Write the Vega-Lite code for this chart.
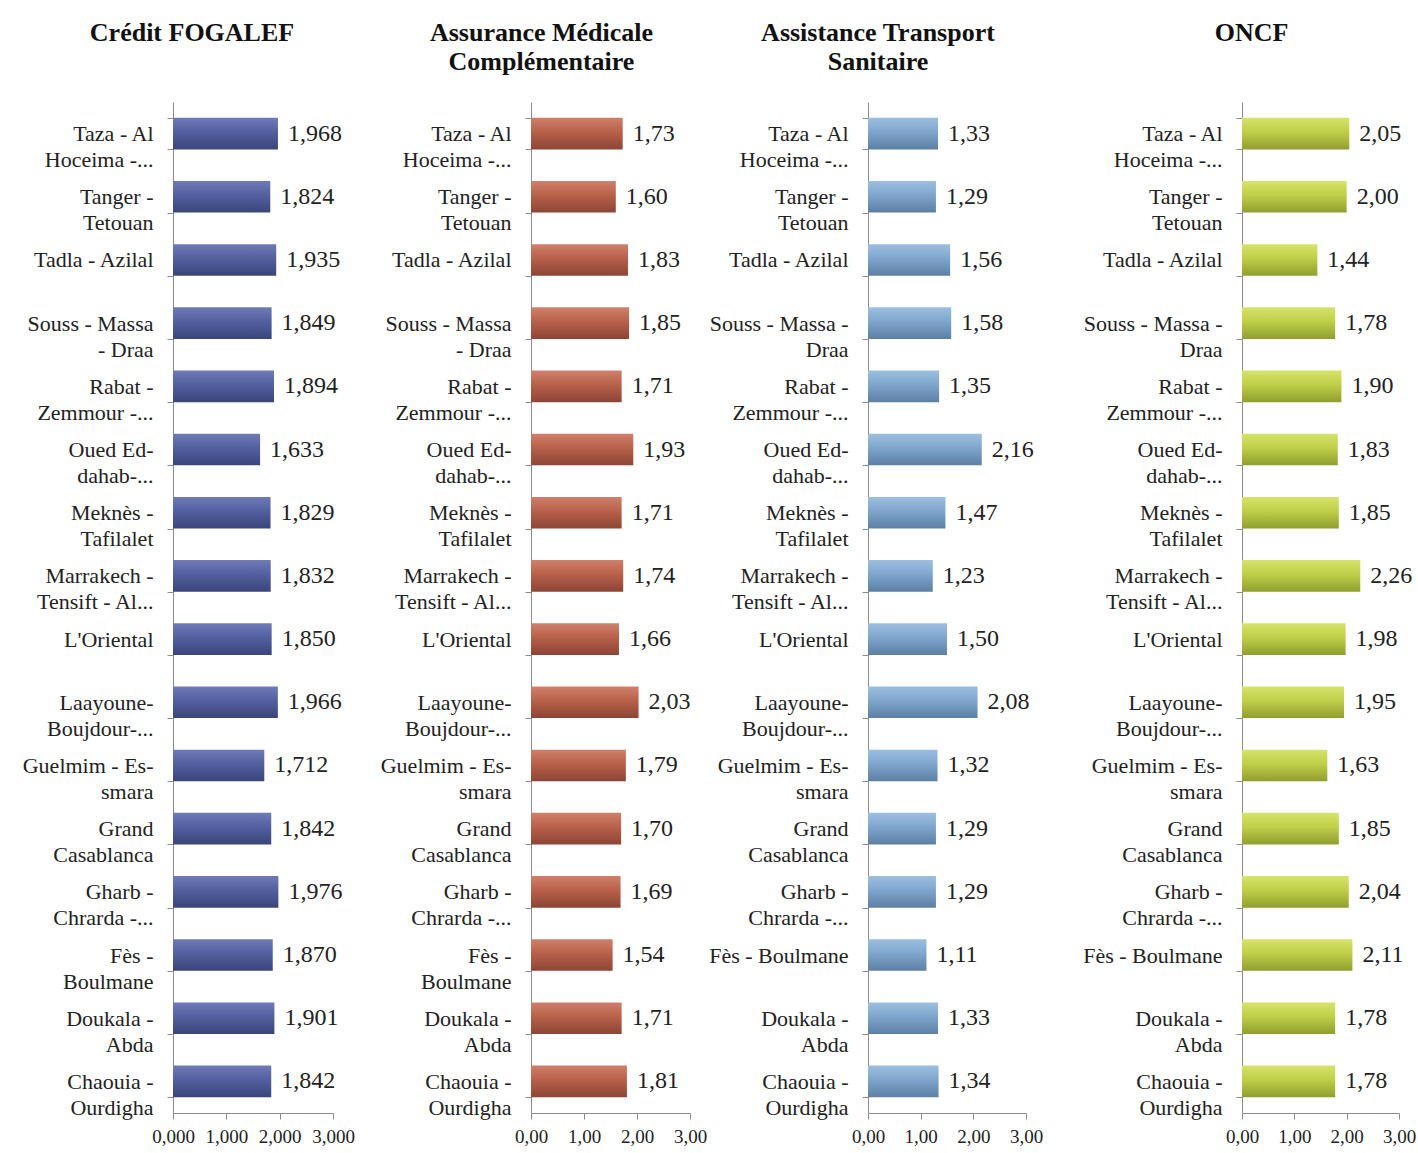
{
  "$schema": "https://vega.github.io/schema/vega-lite/v6.json",
  "background": "white",
  "padding": {"left": 0, "top": 20, "right": 5, "bottom": 5},
  "spacing": 0,
  "config": {
    "locale": {"number": {"decimal": ",", "thousands": ".", "grouping": [3], "currency": ["", ""]}},
    "view": {"stroke": null},
    "font": "Liberation Serif",
    "title": {"fontSize": 26, "fontWeight": "bold", "color": "#111111", "anchor": "middle", "frame": "group", "offset": 16, "lineHeight": 29, "font": "Liberation Serif"},
    "axis": {"domainColor": "#8c8c8c", "tickColor": "#8c8c8c", "labelColor": "#222222", "labelFont": "Liberation Serif", "grid": false, "title": null}
  },
  "data": {"values": [
    {"panel": "P1", "order": 1, "label": "Taza - Al|Hoceima -...", "value": 1.968},
    {"panel": "P1", "order": 2, "label": "Tanger -|Tetouan", "value": 1.824},
    {"panel": "P1", "order": 3, "label": "Tadla - Azilal", "value": 1.935},
    {"panel": "P1", "order": 4, "label": "Souss - Massa|- Draa", "value": 1.849},
    {"panel": "P1", "order": 5, "label": "Rabat -|Zemmour -...", "value": 1.894},
    {"panel": "P1", "order": 6, "label": "Oued Ed-|dahab-...", "value": 1.633},
    {"panel": "P1", "order": 7, "label": "Meknès -|Tafilalet", "value": 1.829},
    {"panel": "P1", "order": 8, "label": "Marrakech -|Tensift - Al...", "value": 1.832},
    {"panel": "P1", "order": 9, "label": "L'Oriental", "value": 1.850},
    {"panel": "P1", "order": 10, "label": "Laayoune-|Boujdour-...", "value": 1.966},
    {"panel": "P1", "order": 11, "label": "Guelmim - Es-|smara", "value": 1.712},
    {"panel": "P1", "order": 12, "label": "Grand|Casablanca", "value": 1.842},
    {"panel": "P1", "order": 13, "label": "Gharb -|Chrarda -...", "value": 1.976},
    {"panel": "P1", "order": 14, "label": "Fès -|Boulmane", "value": 1.870},
    {"panel": "P1", "order": 15, "label": "Doukala -|Abda", "value": 1.901},
    {"panel": "P1", "order": 16, "label": "Chaouia -|Ourdigha", "value": 1.842},

    {"panel": "P2", "order": 1, "label": "Taza - Al|Hoceima -...", "value": 1.73},
    {"panel": "P2", "order": 2, "label": "Tanger -|Tetouan", "value": 1.60},
    {"panel": "P2", "order": 3, "label": "Tadla - Azilal", "value": 1.83},
    {"panel": "P2", "order": 4, "label": "Souss - Massa|- Draa", "value": 1.85},
    {"panel": "P2", "order": 5, "label": "Rabat -|Zemmour -...", "value": 1.71},
    {"panel": "P2", "order": 6, "label": "Oued Ed-|dahab-...", "value": 1.93},
    {"panel": "P2", "order": 7, "label": "Meknès -|Tafilalet", "value": 1.71},
    {"panel": "P2", "order": 8, "label": "Marrakech -|Tensift - Al...", "value": 1.74},
    {"panel": "P2", "order": 9, "label": "L'Oriental", "value": 1.66},
    {"panel": "P2", "order": 10, "label": "Laayoune-|Boujdour-...", "value": 2.03},
    {"panel": "P2", "order": 11, "label": "Guelmim - Es-|smara", "value": 1.79},
    {"panel": "P2", "order": 12, "label": "Grand|Casablanca", "value": 1.70},
    {"panel": "P2", "order": 13, "label": "Gharb -|Chrarda -...", "value": 1.69},
    {"panel": "P2", "order": 14, "label": "Fès -|Boulmane", "value": 1.54},
    {"panel": "P2", "order": 15, "label": "Doukala -|Abda", "value": 1.71},
    {"panel": "P2", "order": 16, "label": "Chaouia -|Ourdigha", "value": 1.81},

    {"panel": "P3", "order": 1, "label": "Taza - Al|Hoceima -...", "value": 1.33},
    {"panel": "P3", "order": 2, "label": "Tanger -|Tetouan", "value": 1.29},
    {"panel": "P3", "order": 3, "label": "Tadla - Azilal", "value": 1.56},
    {"panel": "P3", "order": 4, "label": "Souss - Massa -|Draa", "value": 1.58},
    {"panel": "P3", "order": 5, "label": "Rabat -|Zemmour -...", "value": 1.35},
    {"panel": "P3", "order": 6, "label": "Oued Ed-|dahab-...", "value": 2.16},
    {"panel": "P3", "order": 7, "label": "Meknès -|Tafilalet", "value": 1.47},
    {"panel": "P3", "order": 8, "label": "Marrakech -|Tensift - Al...", "value": 1.23},
    {"panel": "P3", "order": 9, "label": "L'Oriental", "value": 1.50},
    {"panel": "P3", "order": 10, "label": "Laayoune-|Boujdour-...", "value": 2.08},
    {"panel": "P3", "order": 11, "label": "Guelmim - Es-|smara", "value": 1.32},
    {"panel": "P3", "order": 12, "label": "Grand|Casablanca", "value": 1.29},
    {"panel": "P3", "order": 13, "label": "Gharb -|Chrarda -...", "value": 1.29},
    {"panel": "P3", "order": 14, "label": "Fès - Boulmane", "value": 1.11},
    {"panel": "P3", "order": 15, "label": "Doukala -|Abda", "value": 1.33},
    {"panel": "P3", "order": 16, "label": "Chaouia -|Ourdigha", "value": 1.34},

    {"panel": "P4", "order": 1, "label": "Taza - Al|Hoceima -...", "value": 2.05},
    {"panel": "P4", "order": 2, "label": "Tanger -|Tetouan", "value": 2.00},
    {"panel": "P4", "order": 3, "label": "Tadla - Azilal", "value": 1.44},
    {"panel": "P4", "order": 4, "label": "Souss - Massa -|Draa", "value": 1.78},
    {"panel": "P4", "order": 5, "label": "Rabat -|Zemmour -...", "value": 1.90},
    {"panel": "P4", "order": 6, "label": "Oued Ed-|dahab-...", "value": 1.83},
    {"panel": "P4", "order": 7, "label": "Meknès -|Tafilalet", "value": 1.85},
    {"panel": "P4", "order": 8, "label": "Marrakech -|Tensift - Al...", "value": 2.26},
    {"panel": "P4", "order": 9, "label": "L'Oriental", "value": 1.98},
    {"panel": "P4", "order": 10, "label": "Laayoune-|Boujdour-...", "value": 1.95},
    {"panel": "P4", "order": 11, "label": "Guelmim - Es-|smara", "value": 1.63},
    {"panel": "P4", "order": 12, "label": "Grand|Casablanca", "value": 1.85},
    {"panel": "P4", "order": 13, "label": "Gharb -|Chrarda -...", "value": 2.04},
    {"panel": "P4", "order": 14, "label": "Fès - Boulmane", "value": 2.11},
    {"panel": "P4", "order": 15, "label": "Doukala -|Abda", "value": 1.78},
    {"panel": "P4", "order": 16, "label": "Chaouia -|Ourdigha", "value": 1.78}
  ]},
  "hconcat": [
    {
      "width": 160, "height": 1011,
      "title": {"text": ["Crédit FOGALEF", " "], "dx": -61},
      "transform": [{"filter": "datum.panel === 'P1'"}],
      "encoding": {
        "y": {"field": "label", "type": "nominal", "sort": {"field": "order", "op": "min"},
          "scale": {"paddingInner": 0.5, "paddingOuter": 0.25},
          "axis": {"labelExpr": "split(datum.label, '|')", "labelFontSize": 22, "labelLineHeight": 26, "labelPadding": 14, "tickSize": 6, "tickBand": "extent", "minExtent": 173, "maxExtent": 173, "labelLimit": 200}}
      },
      "layer": [
        {"mark": {"type": "bar", "color": {"gradient": "linear", "x1": 0, "y1": 0, "x2": 0, "y2": 1, "stops": [{"offset": 0, "color": "#6f7bb6"}, {"offset": 0.45, "color": "#52609f"}, {"offset": 1, "color": "#3a4579"}]}},
         "encoding": {"x": {"field": "value", "type": "quantitative", "scale": {"domain": [0, 3]},
           "axis": {"values": [0, 1, 2, 3], "format": ".3f", "labelFontSize": 19, "tickSize": 6, "labelOverlap": false, "labelFlush": false, "labelPadding": 8}}}},
        {"mark": {"type": "text", "align": "left", "baseline": "middle", "dx": 10, "fontSize": 24, "color": "#222222"},
         "encoding": {"x": {"field": "value", "type": "quantitative"}, "text": {"field": "value", "type": "quantitative", "format": ".3f"}}}
      ]
    },
    {
      "width": 159, "height": 1011,
      "title": {"text": ["Assurance Médicale", "Complémentaire"], "dx": -69},
      "transform": [{"filter": "datum.panel === 'P2'"}],
      "encoding": {
        "y": {"field": "label", "type": "nominal", "sort": {"field": "order", "op": "min"},
          "scale": {"paddingInner": 0.5, "paddingOuter": 0.25},
          "axis": {"labelExpr": "split(datum.label, '|')", "labelFontSize": 22, "labelLineHeight": 26, "labelPadding": 14, "tickSize": 6, "tickBand": "extent", "minExtent": 176, "maxExtent": 176, "labelLimit": 200}}
      },
      "layer": [
        {"mark": {"type": "bar", "color": {"gradient": "linear", "x1": 0, "y1": 0, "x2": 0, "y2": 1, "stops": [{"offset": 0, "color": "#d0806a"}, {"offset": 0.45, "color": "#b8604a"}, {"offset": 1, "color": "#8c4535"}]}},
         "encoding": {"x": {"field": "value", "type": "quantitative", "scale": {"domain": [0, 3]},
           "axis": {"values": [0, 1, 2, 3], "format": ".2f", "labelFontSize": 19, "tickSize": 6, "labelOverlap": false, "labelFlush": false, "labelPadding": 8}}}},
        {"mark": {"type": "text", "align": "left", "baseline": "middle", "dx": 10, "fontSize": 24, "color": "#222222"},
         "encoding": {"x": {"field": "value", "type": "quantitative"}, "text": {"field": "value", "type": "quantitative", "format": ".2f"}}}
      ]
    },
    {
      "width": 158, "height": 1011,
      "title": {"text": ["Assistance Transport", "Sanitaire"], "dx": -69},
      "transform": [{"filter": "datum.panel === 'P3'"}],
      "encoding": {
        "y": {"field": "label", "type": "nominal", "sort": {"field": "order", "op": "min"},
          "scale": {"paddingInner": 0.5, "paddingOuter": 0.25},
          "axis": {"labelExpr": "split(datum.label, '|')", "labelFontSize": 22, "labelLineHeight": 26, "labelPadding": 14, "tickSize": 6, "tickBand": "extent", "minExtent": 161, "maxExtent": 161, "labelLimit": 200}}
      },
      "layer": [
        {"mark": {"type": "bar", "color": {"gradient": "linear", "x1": 0, "y1": 0, "x2": 0, "y2": 1, "stops": [{"offset": 0, "color": "#9cbfe0"}, {"offset": 0.45, "color": "#7ea6cd"}, {"offset": 1, "color": "#5d7fa3"}]}},
         "encoding": {"x": {"field": "value", "type": "quantitative", "scale": {"domain": [0, 3]},
           "axis": {"values": [0, 1, 2, 3], "format": ".2f", "labelFontSize": 19, "tickSize": 6, "labelOverlap": false, "labelFlush": false, "labelPadding": 8}}}},
        {"mark": {"type": "text", "align": "left", "baseline": "middle", "dx": 10, "fontSize": 24, "color": "#222222"},
         "encoding": {"x": {"field": "value", "type": "quantitative"}, "text": {"field": "value", "type": "quantitative", "format": ".2f"}}}
      ]
    },
    {
      "width": 157, "height": 1011,
      "title": {"text": ["ONCF", " "], "dx": -69},
      "transform": [{"filter": "datum.panel === 'P4'"}],
      "encoding": {
        "y": {"field": "label", "type": "nominal", "sort": {"field": "order", "op": "min"},
          "scale": {"paddingInner": 0.5, "paddingOuter": 0.25},
          "axis": {"labelExpr": "split(datum.label, '|')", "labelFontSize": 22, "labelLineHeight": 26, "labelPadding": 14, "tickSize": 6, "tickBand": "extent", "minExtent": 199, "maxExtent": 199, "labelLimit": 200}}
      },
      "layer": [
        {"mark": {"type": "bar", "color": {"gradient": "linear", "x1": 0, "y1": 0, "x2": 0, "y2": 1, "stops": [{"offset": 0, "color": "#d6e36a"}, {"offset": 0.45, "color": "#bfcf48"}, {"offset": 1, "color": "#919e30"}]}},
         "encoding": {"x": {"field": "value", "type": "quantitative", "scale": {"domain": [0, 3]},
           "axis": {"values": [0, 1, 2, 3], "format": ".2f", "labelFontSize": 19, "tickSize": 6, "labelOverlap": false, "labelFlush": false, "labelPadding": 8}}}},
        {"mark": {"type": "text", "align": "left", "baseline": "middle", "dx": 10, "fontSize": 24, "color": "#222222"},
         "encoding": {"x": {"field": "value", "type": "quantitative"}, "text": {"field": "value", "type": "quantitative", "format": ".2f"}}}
      ]
    }
  ]
}
